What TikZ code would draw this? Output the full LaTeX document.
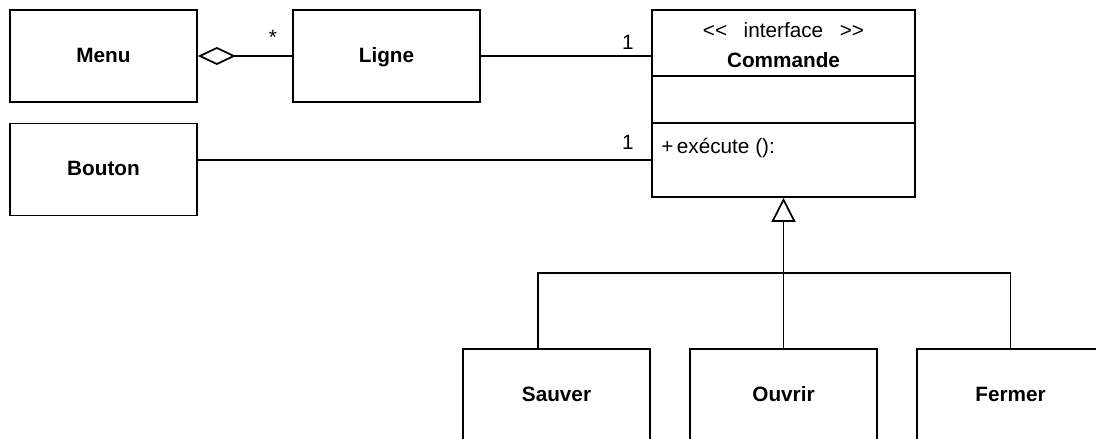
\documentclass[tikz,border=0pt]{standalone}
\usepackage{fontspec}
\setmainfont{Liberation Sans}
\usetikzlibrary{arrows.meta}

\newcommand{\taillefonte}{\fontsize{11.8}{14}\selectfont}

\tikzset{
  classe/.style={draw, line width=1pt, minimum width=3.74cm, minimum height=1.84cm,
    text height=1.6ex, text depth=0.3ex, font=\taillefonte\bfseries},
  texte/.style={inner sep=0pt, font=\taillefonte},
  lien/.style={line width=1pt}
}

\begin{document}
\begin{tikzpicture}[x=0.02cm, y=-0.02cm]
\useasboundingbox (0,0) rectangle (1096,439);
\clip (0,0) rectangle (1096,439);

% Classes du haut
\node[classe] (menu) at (103.5,56) {Menu};
\node[classe] (ligne) at (386.5,56) {Ligne};
\node[classe] (bouton) at (103.5,169.5) {Bouton};

% Interface Commande
\node[draw, line width=1pt, minimum width=5.26cm, minimum height=3.74cm] (commande) at (783.5,103.5) {};
\node[texte] (stereo) at (783.5,30) {<\kern0pt<\hspace{0.8em}interface\hspace{0.8em}>\kern0pt>};
\node[texte, font=\taillefonte\bfseries] (nom) at (783.5,60) {Commande};
\draw[lien] (652,76) -- (915,76);
\draw[lien] (652,123) -- (915,123);
\node[texte, anchor=west] (methode) at (661,148) {+\,exécute ():};

% Associations
\draw[lien, {Diamond[open, length=0.76cm, width=0.36cm]}-] (menu) -- (ligne);
\node[texte] (etoile) at (273,37) {*};
\draw[lien] (ligne) -- (commande.west |- ligne);
\node[texte] (un1) at (628,42) {1};
\draw[lien] ([yshift=0.19cm]bouton.east) -- (commande.west |- 0,160);
\node[texte] (un2) at (628,142) {1};

% Sous-classes
\node[classe] (sauver) at (556.5,395) {Sauver};
\node[classe] (ouvrir) at (783.5,395) {Ouvrir};
\node[classe] (fermer) at (1010.5,395) {Fermer};

% Generalisation
\coordinate (noeud) at (783.5,273);
\draw[lien, -{Triangle[open, length=0.48cm, width=0.48cm]}] (noeud) -- (commande.south);
\draw[lien] ([xshift=-0.37cm]sauver.north) |- (noeud) -| (fermer.north);
\draw[lien] (ouvrir.north) -- (noeud);

\end{tikzpicture}
\end{document}
